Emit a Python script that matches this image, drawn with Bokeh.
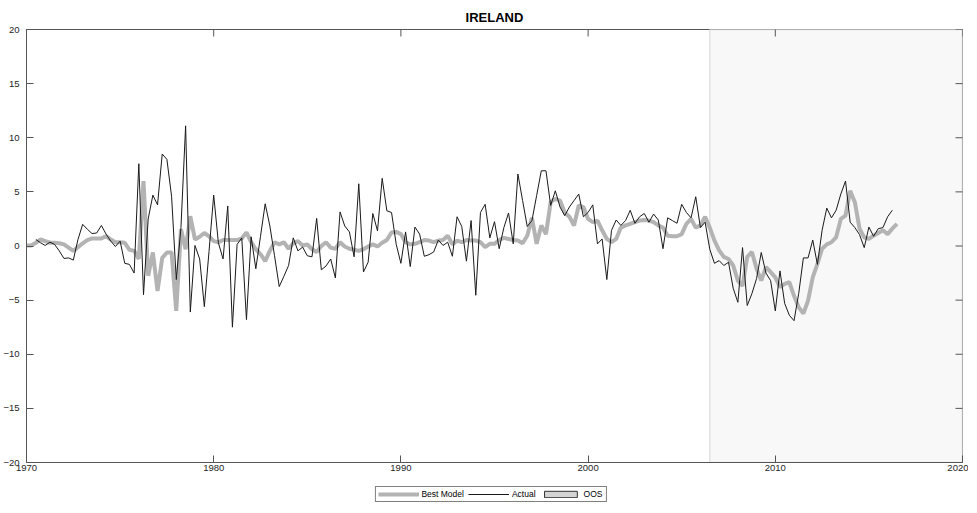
import numpy as np
from bokeh.plotting import figure
from bokeh.layouts import column
from bokeh.models import Range1d, FixedTicker, Legend, LegendItem, ColumnDataSource, Spacer
from bokeh.embed import file_html
from bokeh.resources import INLINE

title_text = "IRELAND"
start_actual = 1970.5
start_model = 1970.0
oos_start = 2006.5
x_ticks = [1970, 1980, 1990, 2000, 2010, 2020]
y_ticks = [-20, -15, -10, -5, 0, 5, 10, 15, 20]
legend_labels = ["Best Model", "Actual", "OOS"]

actual = [
    0.6, 0.3, 0.05, 0.35, 0.15, -0.45, -1.15, -1.1, -1.3, 0.6,
    2.0, 1.55, 1.15, 1.2, 1.9, 1.1, 0.45, -0.05, 0.45, -1.6,
    -1.7, -2.5, 7.6, -4.5, 2.5, 4.7, 3.8, 8.5, 8.0, 4.6,
    -3.1, 1.7, 11.1, -6.1, 0.05, -1.2, -5.6, -0.5, 4.7, 0.3,
    -1.2, 3.7, -7.5, 0.15, 0.75, -6.8, 0.85, -2.1, 0.9, 3.9,
    1.85, -0.9, -3.75, -2.8, -1.8, 0.75, -0.45, -0.1, -0.9, -1.0,
    2.55, -2.2, -1.85, -1.2, -2.95, 3.15, 1.85, 1.3, -1.0, 5.75,
    -2.4, -1.5, 3.0, 1.4, 6.25, 3.25, 3.1, 0.15, -1.6, 1.3,
    -1.9, 1.75, 1.1, -0.95, -0.8, -0.55, 0.55, 0.05, 0.35, -0.95,
    2.7, 1.8, -1.4, 2.35, -4.55, 3.1, 3.85, 0.75, 2.25, -0.25,
    1.7, 3.05, 0.2, 6.65, 4.2, 1.8, 2.35, 4.65, 6.95, 6.95,
    3.75, 5.1, 3.6, 2.8, 3.6, 4.2, 4.8, 2.7, 3.1, 3.8,
    0.2, 0.65, -3.1, 1.45, 2.4, 1.9, 2.35, 3.3, 2.1, 2.7,
    3.0, 2.2, 2.95, 2.4, -0.25, 2.6, 2.35, 2.1, 3.85, 3.1,
    2.6, 4.55, 1.7, 2.2, -0.3, -1.6, -1.35, -1.8, -1.5, -3.9,
    -5.2, -0.15, -5.5, -4.4, -3.0, -0.6, -2.5, -3.2, -6.0, -2.3,
    -5.3, -6.4, -6.9, -4.4, -1.1, -1.1, 0.55, -1.7, 1.45, 3.5,
    2.6, 3.3, 4.8, 6.0, 2.2, 1.7, 1.05, -0.15, 1.75, 0.9,
    1.6, 1.7, 2.7, 3.3,
]

best_model = [
    0.05, 0.05,
    0.3, 0.6, 0.45, 0.3, 0.3, 0.25, 0.15, -0.15, -0.45, -0.1,
    0.25, 0.55, 0.7, 0.7, 0.7, 0.9, 0.6, 0.35, 0.35, 0.3,
    -0.35, -0.45, -1.2, 6.0, -2.75, -0.6, -4.15, -1.1, -0.6, -0.6,
    -6.0, 1.55, -0.3, 2.75, 0.6, 0.85, 1.2, 0.9, 0.45, 0.35,
    0.55, 0.55, 0.55, 0.55, 0.7, 1.25, 0.35, -0.3, -0.75, -1.4,
    -0.45, 0.35, 0.15, 0.35, -0.25, 0.25, 0.45, 0.05, 0.15, -0.3,
    -0.55, 0.0, 0.35, -0.15, -0.25, 0.35, -0.05, -0.25, -0.35, -0.45,
    -0.3, -0.05, 0.15, -0.05, 0.3, 0.55, 1.25, 1.3, 1.1, 0.35,
    0.15, 0.2, 0.35, 0.55, 0.5, 0.35, 0.5, 0.55, 0.95, 0.15,
    0.5, 0.35, 0.55, 0.5, 0.5, 0.35, -0.1, 0.2, 0.2, 0.55,
    0.75, 0.65, 0.55, 0.5, 0.25, 0.95, 2.6, 0.2, 1.9, 1.1,
    4.05, 4.35, 4.2, 3.1, 2.7, 1.9, 3.75, 3.6, 2.5, 2.2,
    2.35, 1.45, 0.65, 0.35, 0.65, 1.7, 1.9, 2.05, 2.2, 2.35,
    2.4, 2.35, 2.2, 1.9, 1.7, 0.95, 0.9, 0.9, 1.1, 2.05,
    2.5, 1.7, 1.9, 2.7, 1.7, 0.5, -0.4, -1.0, -1.2, -1.8,
    -3.2, -3.7, -1.0, -0.55, -2.1, -3.2, -1.95, -2.4, -2.9, -3.8,
    -3.5, -3.35, -4.6, -5.65, -6.25, -5.05, -2.9, -1.65, -0.25, 0.15,
    0.35, 0.8, 2.5, 2.8, 5.1, 4.05, 1.6, 0.8, 0.65, 0.95,
    1.2, 1.45, 1.1, 1.6, 2.05,
]

x_act = start_actual + np.arange(len(actual)) / 4.0
x_mod = start_model + np.arange(len(best_model)) / 4.0

x0, x1 = x_ticks[0], x_ticks[-1]
y0, y1 = y_ticks[0], y_ticks[-1]

FONT = "Liberation Sans"
AX = "#555555"
MODEL_COLOR = "#b3b3b3"
ACTUAL_COLOR = "#1a1a1a"

p = figure(frame_width=936, frame_height=433, x_range=Range1d(x0, x1), y_range=Range1d(y0, y1),
           output_backend="svg", toolbar_location=None,
           min_border_left=0, min_border_right=6, min_border_top=0, min_border_bottom=0)
p.background_fill_color = "white"
p.border_fill_color = "white"
p.outline_line_color = AX
p.outline_line_width = 1
p.xgrid.visible = False
p.ygrid.visible = False

p.title.text = title_text
p.title.align = "center"
p.title.text_font = FONT
p.title.text_font_size = "13px"
p.title.text_font_style = "bold"
p.title.text_color = "black"
p.title.standoff = 10

for ax, ticks in ((p.xaxis[0], x_ticks), (p.yaxis[0], y_ticks)):
    ax.ticker = FixedTicker(ticks=ticks)
    ax.major_tick_in = 7
    ax.major_tick_out = 0
    ax.minor_tick_line_color = None
    ax.axis_line_color = AX
    ax.major_tick_line_color = AX
    ax.major_label_text_font = FONT
    ax.major_label_text_color = "#262626"
    ax.major_label_text_font_size = "9.5px"
p.xaxis[0].major_label_standoff = 2
p.yaxis[0].major_label_standoff = 7

# OOS shaded region
p.quad(left=[oos_start], right=[x1], bottom=[y0], top=[y1],
       fill_color="#f8f8f8", line_color="#e2e2e2", line_width=1.5)

src_m = ColumnDataSource(dict(x=x_mod, y=best_model))
src_a = ColumnDataSource(dict(x=x_act, y=actual))
p.line("x", "y", source=src_m, line_color=MODEL_COLOR, line_width=4)
p.line("x", "y", source=src_a, line_color=ACTUAL_COLOR, line_width=1)

# inward ticks on the top and right edges of the box (outer halves clipped by the frame)
p.scatter(x=[x1] * len(y_ticks), y=y_ticks, marker="dash", size=14,
          line_color=AX, line_width=1)
p.scatter(x=x_ticks, y=[y1] * len(x_ticks), marker="dash", size=14, angle=np.pi / 2,
          line_color=AX, line_width=1)

# legend strip below the chart
q = figure(width=961, height=29, x_range=Range1d(0, 1), y_range=Range1d(0, 1),
           output_backend="svg", toolbar_location=None,
           x_axis_type=None, y_axis_type=None,
           min_border_left=0, min_border_right=0, min_border_top=0, min_border_bottom=0)
q.outline_line_color = None
q.xgrid.visible = False
q.ygrid.visible = False
q.background_fill_color = "white"
q.border_fill_color = "white"
nan = [float("nan")]
lm = q.line(x=nan, y=nan, line_color=MODEL_COLOR, line_width=4)
la = q.line(x=nan, y=nan, line_color=ACTUAL_COLOR, line_width=1)
lo = q.quad(left=nan, right=nan, bottom=nan, top=nan,
            fill_color="#d4d4d4", line_color="#333333", line_width=1)

legend = Legend(items=[LegendItem(label=legend_labels[0], renderers=[lm]),
                       LegendItem(label=legend_labels[1], renderers=[la]),
                       LegendItem(label=legend_labels[2], renderers=[lo])],
                orientation="horizontal", location="bottom_center")
legend.label_text_font = FONT
legend.label_text_font_size = "8.5px"
legend.label_text_color = "black"
legend.glyph_width = 41
legend.glyph_height = 8
legend.label_height = 8
legend.label_standoff = 3
legend.spacing = 4
legend.padding = 2
legend.margin = 0
legend.border_line_color = "black"
legend.border_line_width = 1
legend.background_fill_color = "white"
q.add_layout(legend, "center")

layout = column(Spacer(height=2), p, q, spacing=0)
open("out.html", "w").write(file_html(layout, INLINE))
